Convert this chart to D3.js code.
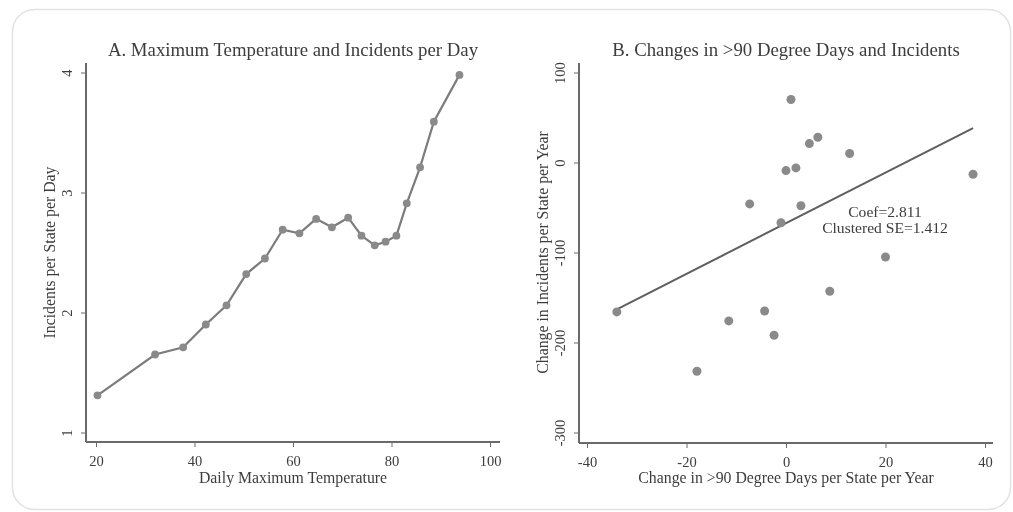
<!DOCTYPE html>
<html lang="en">
<head>
    <meta charset="utf-8">
    <title>Temperature and Incidents</title>
    <style>
        body {
            margin: 0;
            background: #fff;
        }

        svg text {
            font-family: "Liberation Serif", "DejaVu Serif", serif;
            fill: #3c3c3c;
        }

        .axis path, .axis line {
            stroke: #6a6a6a;
        }
    </style>
</head>
<body>
    <svg id="chart" width="1013" height="512"></svg>

    <script src="https://cdnjs.cloudflare.com/ajax/libs/d3/7.8.5/d3.min.js"></script>
    <script>
        // Panel A: daily max temperature vs incidents per state per day
        const tempA = [20.3, 32.0, 37.7, 42.3, 46.5, 50.5, 54.3, 57.9, 61.3, 64.7,
                       67.9, 71.2, 73.9, 76.6, 78.8, 81.0, 83.1, 85.8, 88.6, 93.8];
        const incidentsA = [1.31, 1.65, 1.71, 1.90, 2.06, 2.32, 2.45, 2.69, 2.66, 2.78,
                            2.71, 2.79, 2.64, 2.56, 2.59, 2.64, 2.91, 3.21, 3.59, 3.98];
        const ticksAx = [20, 40, 60, 80, 100];
        const ticksAy = [1, 2, 3, 4];

        // Panel B: change in >90 degree days vs change in incidents, by state
        const changeDays = [-34.0, -17.9, -11.5, -7.3, -4.3, -2.4, -1.0, 0.0, 1.0, 2.0,
                            3.0, 4.7, 6.4, 8.8, 12.8, 20.0, 37.6];
        const changeIncidents = [-166, -232, -176, -46, -165, -192, -67, -9, 70, -6,
                                 -48, 21, 28, -143, 10, -105, -13];
        const fitCoef = 2.811;
        const fitIntercept = -67.5;
        const fitSE = 1.412;
        const ticksBx = [-40, -20, 0, 20, 40];
        const ticksBy = [-300, -200, -100, 0, 100];

        const svg = d3.select("#chart");

        // soft look of the scanned figure
        svg.append("defs").append("filter")
            .attr("id", "soft")
            .append("feGaussianBlur")
            .attr("stdDeviation", 0.55);

        const root = svg.append("g").attr("filter", "url(#soft)");

        // rounded frame around the whole figure
        root.append("rect")
            .attr("x", 12.5).attr("y", 9.5)
            .attr("width", 998).attr("height", 500)
            .attr("rx", 22)
            .attr("fill", "none")
            .attr("stroke", "#e2e2e2")
            .attr("stroke-width", 1.5);

        // plain hyphen for negatives, like the original
        const fmt = d => String(d);

        function drawFrame(g, box, x, y, xTicks, yTicks, title, xLabel, yLabel) {
            // axis lines span the whole plot region like Stata does
            g.append("line")
                .attr("x1", box.left).attr("x2", box.left)
                .attr("y1", box.top).attr("y2", box.bottom)
                .attr("stroke", "#6a6a6a").attr("stroke-width", 2);
            g.append("line")
                .attr("x1", box.left).attr("x2", box.right)
                .attr("y1", box.bottom).attr("y2", box.bottom)
                .attr("stroke", "#6a6a6a").attr("stroke-width", 2);

            const xAxis = d3.axisBottom(x).tickValues(xTicks).tickFormat(fmt)
                .tickSize(5).tickPadding(8);
            const gx = g.append("g")
                .attr("class", "axis")
                .attr("transform", `translate(0,${box.bottom})`)
                .call(xAxis);
            gx.select(".domain").remove();
            gx.selectAll("text").attr("font-size", 14.5).attr("dy", "0.75em");

            const yAxis = d3.axisLeft(y).tickValues(yTicks).tickFormat(fmt)
                .tickSize(5).tickPadding(5);
            const gy = g.append("g")
                .attr("class", "axis")
                .attr("transform", `translate(${box.left},0)`)
                .call(yAxis);
            gy.select(".domain").remove();
            // Stata style vertical tick labels
            gy.selectAll("text")
                .attr("font-size", 14.5)
                .attr("x", 0).attr("dy", 0)
                .attr("text-anchor", "middle")
                .attr("transform", "translate(-14,0) rotate(-90)");

            const cx = (box.left + box.right) / 2;
            g.append("text")
                .attr("x", cx).attr("y", 56)
                .attr("text-anchor", "middle")
                .attr("font-size", 18.8)
                .text(title);

            g.append("text")
                .attr("x", (x.range()[0] + x.range()[1]) / 2).attr("y", 483)
                .attr("text-anchor", "middle")
                .attr("font-size", 15.8)
                .text(xLabel);

            const cy = (y.range()[0] + y.range()[1]) / 2;
            g.append("text")
                .attr("transform", `translate(${box.left - 31},${cy}) rotate(-90)`)
                .attr("text-anchor", "middle")
                .attr("font-size", 15.8)
                .text(yLabel);
        }

        // ---- Panel A ----
        const boxA = {left: 86, right: 500, top: 63, bottom: 442};
        const xA = d3.scaleLinear().domain([20, 100]).range([96, 490]);
        const yA = d3.scaleLinear().domain([1, 4]).range([432.5, 72.5]);
        const gA = root.append("g");
        drawFrame(gA, boxA, xA, yA, ticksAx, ticksAy,
            "A. Maximum Temperature and Incidents per Day",
            "Daily Maximum Temperature",
            "Incidents per State per Day");

        const dataA = tempA.map((t, i) => ({t: t, v: incidentsA[i]}));
        gA.append("path")
            .datum(dataA)
            .attr("fill", "none")
            .attr("stroke", "#7c7c7c")
            .attr("stroke-width", 2.2)
            .attr("d", d3.line().x(d => xA(d.t)).y(d => yA(d.v)));
        gA.selectAll("circle")
            .data(dataA)
            .join("circle")
            .attr("cx", d => xA(d.t))
            .attr("cy", d => yA(d.v))
            .attr("r", 3.9)
            .attr("fill", "#8a8a8a");

        // ---- Panel B ----
        const boxB = {left: 579, right: 993, top: 63, bottom: 443};
        const xB = d3.scaleLinear().domain([-40, 40]).range([587, 985]);
        const yB = d3.scaleLinear().domain([-300, 100]).range([432.5, 72.5]);
        const gB = root.append("g");
        drawFrame(gB, boxB, xB, yB, ticksBx, ticksBy,
            "B. Changes in >90 Degree Days and Incidents",
            "Change in >90 Degree Days per State per Year",
            "Change in Incidents per State per Year");

        const dataB = changeDays.map((d, i) => ({x: d, y: changeIncidents[i]}));
        const xExt = d3.extent(changeDays);
        gB.append("line")
            .attr("x1", xB(xExt[0])).attr("y1", yB(fitIntercept + fitCoef * xExt[0]))
            .attr("x2", xB(xExt[1])).attr("y2", yB(fitIntercept + fitCoef * xExt[1]))
            .attr("stroke", "#5e5e5e")
            .attr("stroke-width", 2);
        gB.selectAll("circle")
            .data(dataB)
            .join("circle")
            .attr("cx", d => xB(d.x))
            .attr("cy", d => yB(d.y))
            .attr("r", 4.5)
            .attr("fill", "#8a8a8a");

        gB.append("text")
            .attr("x", 885).attr("y", 217)
            .attr("text-anchor", "middle")
            .attr("font-size", 15.6)
            .text("Coef=" + fitCoef.toFixed(3));
        gB.append("text")
            .attr("x", 885).attr("y", 233)
            .attr("text-anchor", "middle")
            .attr("font-size", 15.6)
            .text("Clustered SE=" + fitSE.toFixed(3));
    </script>
</body>
</html>
